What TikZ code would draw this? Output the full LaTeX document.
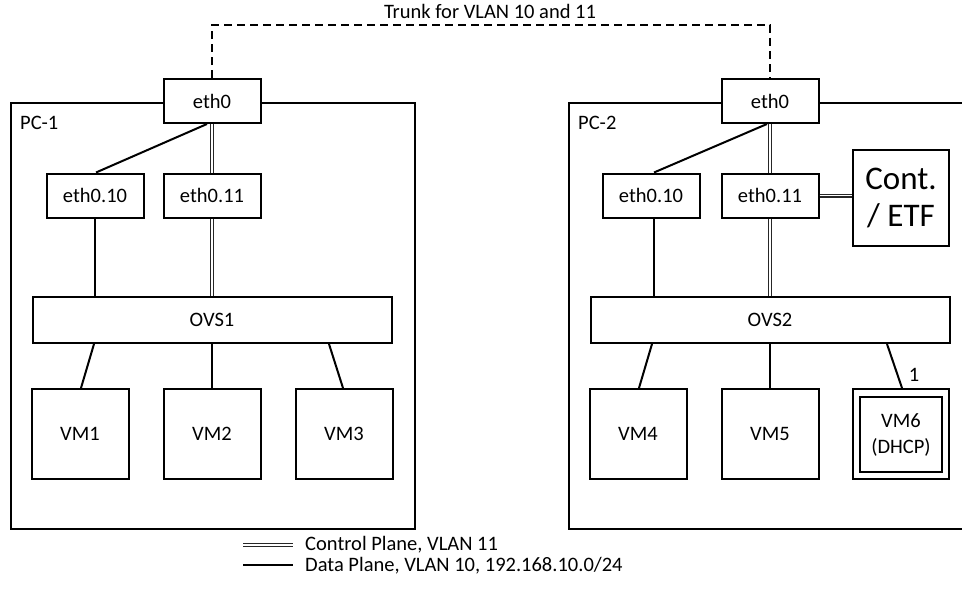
\documentclass[tikz,border=0pt]{standalone}
\usepackage{fontspec}
\setmainfont{Carlito}
\usetikzlibrary{calc}
\begin{document}
\begin{tikzpicture}[x=1pt,y=-1pt,
  box/.style={draw,line width=2pt,fill=white,inner sep=0pt,font=\fontsize{20.5}{26}\selectfont},
  ethbox/.style={box,minimum width=97pt,minimum height=44pt},
  vmbox/.style={box,minimum width=97pt,minimum height=90pt},
  ovsbox/.style={box,minimum width=359pt,minimum height=46pt},
  pcbox/.style={draw,line width=2pt,inner sep=0pt},
  dataline/.style={line width=2pt},
  ctrlline/.style={draw=black!85,line width=1.1pt,double=white,double distance=1.8pt},
  trunk/.style={line width=2pt,dash pattern=on 8pt off 5pt},
  lbl/.style={font=\fontsize{20.5}{24}\selectfont,inner sep=0pt}]
\clip (0,0) rectangle (962,597);
% PC boxes
\node[pcbox,minimum width=404pt,minimum height=426pt,anchor=north west] (pc1) at (10,102) {};
\node[pcbox,minimum width=420pt,minimum height=426pt,anchor=north west] (pc2) at (568,102) {};
\node[lbl,anchor=west] (pc1l) at (20,123) {PC-1};
\node[lbl,anchor=west] (pc2l) at (578,123) {PC-2};
% trunk
\node[lbl] (tl) at (490,11) {Trunk for VLAN 10 and 11};
\coordinate (tk) at (490,25);
% PC-1 nodes
\node[ethbox] (e0a) at (212,101) {eth0};
\node[ethbox] (e10a) at (95,195.5) {eth0.10};
\node[ethbox] (e11a) at (212,195.5) {eth0.11};
\node[ovsbox] (ovs1) at (212,320) {OVS1};
\node[vmbox] (vm1) at (80,434) {VM1};
\node[vmbox] (vm2) at (212,434) {VM2};
\node[vmbox] (vm3) at (344,434) {VM3};
% PC-2 nodes
\node[ethbox] (e0b) at (770,101) {eth0};
\node[ethbox] (e10b) at (651,195.5) {eth0.10};
\node[ethbox] (e11b) at (770,195.5) {eth0.11};
\node[box,minimum width=96pt,minimum height=96pt,align=center,font=\fontsize{33}{37}\selectfont] (cont) at (901,198) {Cont.\\/ ETF};
\node[ovsbox] (ovs2) at (770,320) {OVS2};
\node[vmbox] (vm4) at (638,434) {VM4};
\node[vmbox] (vm5) at (770,434) {VM5};
\node[box,minimum width=96pt,minimum height=90pt] (vm6) at (901,434) {};
\node[box,minimum width=82pt,minimum height=75pt,align=center] (vm6i) at (901,434.5) {VM6\\(DHCP)};
\node[lbl] (one) at (914,375) {1};
% trunk line
\draw[trunk] (e0a.north) -- (e0a.north |- tk) -- (e0b.north |- tk) -- (e0b.north);
% PC-1 connectors
\draw[dataline] ($(e0a.south)+(-5,0)$) -- ($(e10a.north)+(1,0)$);
\draw[ctrlline] (e0a.south) -- (e11a.north);
\draw[dataline] (e10a.south) -- (e10a.south |- ovs1.north);
\draw[ctrlline] (e11a.south) -- (e11a.south |- ovs1.north);
\draw[dataline] ($(ovs1.south)+(-118,0)$) -- ($(vm1.north)+(1,0)$);
\draw[dataline] (ovs1.south) -- (vm2.north);
\draw[dataline] ($(ovs1.south)+(117,0)$) -- ($(vm3.north)+(-1,0)$);
% PC-2 connectors
\draw[dataline] ($(e0b.south)+(-3,0)$) -- ($(e10b.north)+(3,0)$);
\draw[ctrlline] (e0b.south) -- (e11b.north);
\draw[dataline] ($(e10b.south)+(3,0)$) -- ($(e10b.south |- ovs2.north)+(3,0)$);
\draw[ctrlline] (e11b.south) -- (e11b.south |- ovs2.north);
\draw[ctrlline] (e11b.east) -- (cont.west |- e11b.east);
\draw[dataline] ($(ovs2.south)+(-118,0)$) -- ($(vm4.north)+(1,0)$);
\draw[dataline] (ovs2.south) -- (vm5.north);
\draw[dataline] ($(ovs2.south)+(117,0)$) -- ($(vm6.north)+(1,0)$);
% legend
\coordinate (l1a) at (243,545);
\coordinate (l1b) at (293,545);
\coordinate (l2a) at (243,565);
\coordinate (l2b) at (293,565);
\draw[ctrlline] (l1a) -- (l1b);
\draw[dataline] (l2a) -- (l2b);
\node[lbl,anchor=west] (lg1) at (305,545) {Control Plane, VLAN 11};
\node[lbl,anchor=west] (lg2) at (305,566) {Data Plane, VLAN 10, 192.168.10.0/24};
\end{tikzpicture}
\end{document}
